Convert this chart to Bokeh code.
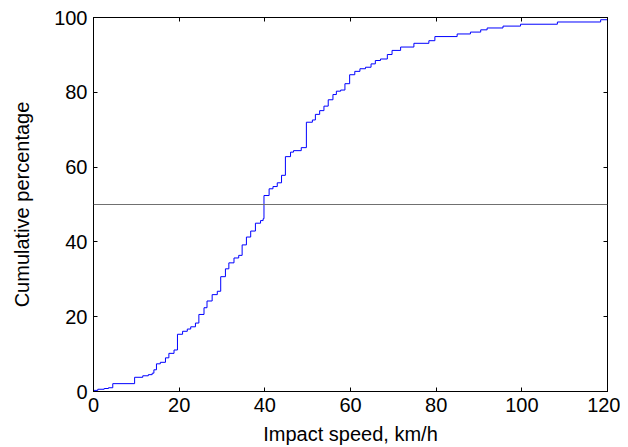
from bokeh.plotting import figure
from bokeh.models import Range1d, LinearAxis, FixedTicker, Span
from bokeh.embed import file_html
from bokeh.resources import INLINE

# Impact speed (km/h) at each step and cumulative percentage after the step
speed = [0.0, 1.0, 2.5, 3.5, 4.5, 9.6, 11.5, 12.8, 13.7, 14.1, 14.7, 15.6, 16.8, 17.6,
         18.8, 19.6, 20.8, 21.9, 22.7, 23.8, 24.6, 25.8, 26.5, 27.7, 28.9, 29.7, 30.8,
         31.6, 32.8, 33.9, 34.7, 35.7, 36.7, 37.8, 39.0, 39.6, 39.8, 41.0, 41.9, 42.9,
         43.9, 44.8, 46.0, 46.7, 48.5, 49.7, 51.1, 51.8, 52.8, 53.8, 54.8, 55.9, 56.7,
         57.7, 58.7, 59.8, 61.0, 62.2, 63.5, 64.8, 65.8, 67.0, 68.6, 69.7, 71.7, 74.8,
         78.3, 79.7, 84.9, 88.0, 90.4, 91.9, 95.6, 99.7, 108.3, 118.4, 120.0]
cum_pct = [0.3, 0.6, 0.8, 1.0, 2.1, 3.8, 4.2, 4.5, 4.9, 5.8, 7.4, 7.8, 9.0, 10.2,
           11.1, 15.3, 16.1, 16.7, 17.3, 18.3, 20.6, 22.4, 24.2, 25.9, 26.8, 30.7, 32.8,
           34.4, 35.7, 36.4, 39.2, 41.3, 42.9, 45.0, 45.7, 46.2, 52.4, 54.2, 54.8, 55.8,
           57.8, 62.8, 64.0, 64.4, 65.2, 72.0, 72.6, 74.1, 75.1, 76.3, 78.0, 79.4, 80.3,
           80.6, 82.3, 84.7, 85.6, 86.3, 86.7, 87.6, 88.5, 88.9, 90.1, 91.2, 92.1, 93.1,
           93.8, 94.9, 95.6, 96.1, 96.7, 97.2, 97.7, 98.2, 98.8, 99.4, 100.0]
x_ticks = [0, 20, 40, 60, 80, 100, 120]
y_ticks = [0, 20, 40, 60, 80, 100]
median_level = 50

FONT = "Liberation Sans"

p = figure(width=620, height=447, output_backend="svg", toolbar_location=None,
           x_range=Range1d(0, 120), y_range=Range1d(0, 100),
           min_border_left=93, min_border_right=13, min_border_top=17, min_border_bottom=56,
           background_fill_color="white", border_fill_color="white")
p.grid.visible = False
p.outline_line_color = "black"
p.outline_line_width = 1

p.step(speed, cum_pct, mode="after", line_color="#0000ff", line_width=1)
p.add_layout(Span(location=median_level, dimension="width", line_color="#707070", line_width=1))

def style(ax, ticks, show_labels=True):
    ax.ticker = FixedTicker(ticks=ticks)
    ax.major_tick_in = 4
    ax.major_tick_out = 0
    ax.minor_tick_line_color = None
    ax.axis_line_color = "black"
    ax.major_tick_line_color = "black"
    ax.major_label_text_font = FONT
    ax.axis_label_text_font = FONT
    ax.axis_label_text_font_style = "normal"
    ax.axis_label_text_color = "black"
    if show_labels:
        ax.major_label_text_color = "black"
        ax.major_label_text_font_size = "20px"
        ax.axis_label_text_font_size = "20px"
    else:
        ax.major_label_text_color = None
        ax.major_label_text_font_size = "1px"
        ax.major_label_standoff = 0

style(p.xaxis[0], x_ticks)
style(p.yaxis[0], y_ticks)
p.xaxis[0].axis_label = "Impact speed, km/h"
p.yaxis[0].axis_label = "Cumulative percentage"
p.xaxis[0].major_label_standoff = 6
p.yaxis[0].major_label_standoff = 6
p.xaxis[0].axis_label_standoff = 8
p.yaxis[0].axis_label_standoff = 18

top = LinearAxis()
right = LinearAxis()
style(top, x_ticks, False)
style(right, y_ticks, False)
p.add_layout(top, "above")
p.add_layout(right, "right")

open("out.html", "w").write(file_html(p, INLINE))
